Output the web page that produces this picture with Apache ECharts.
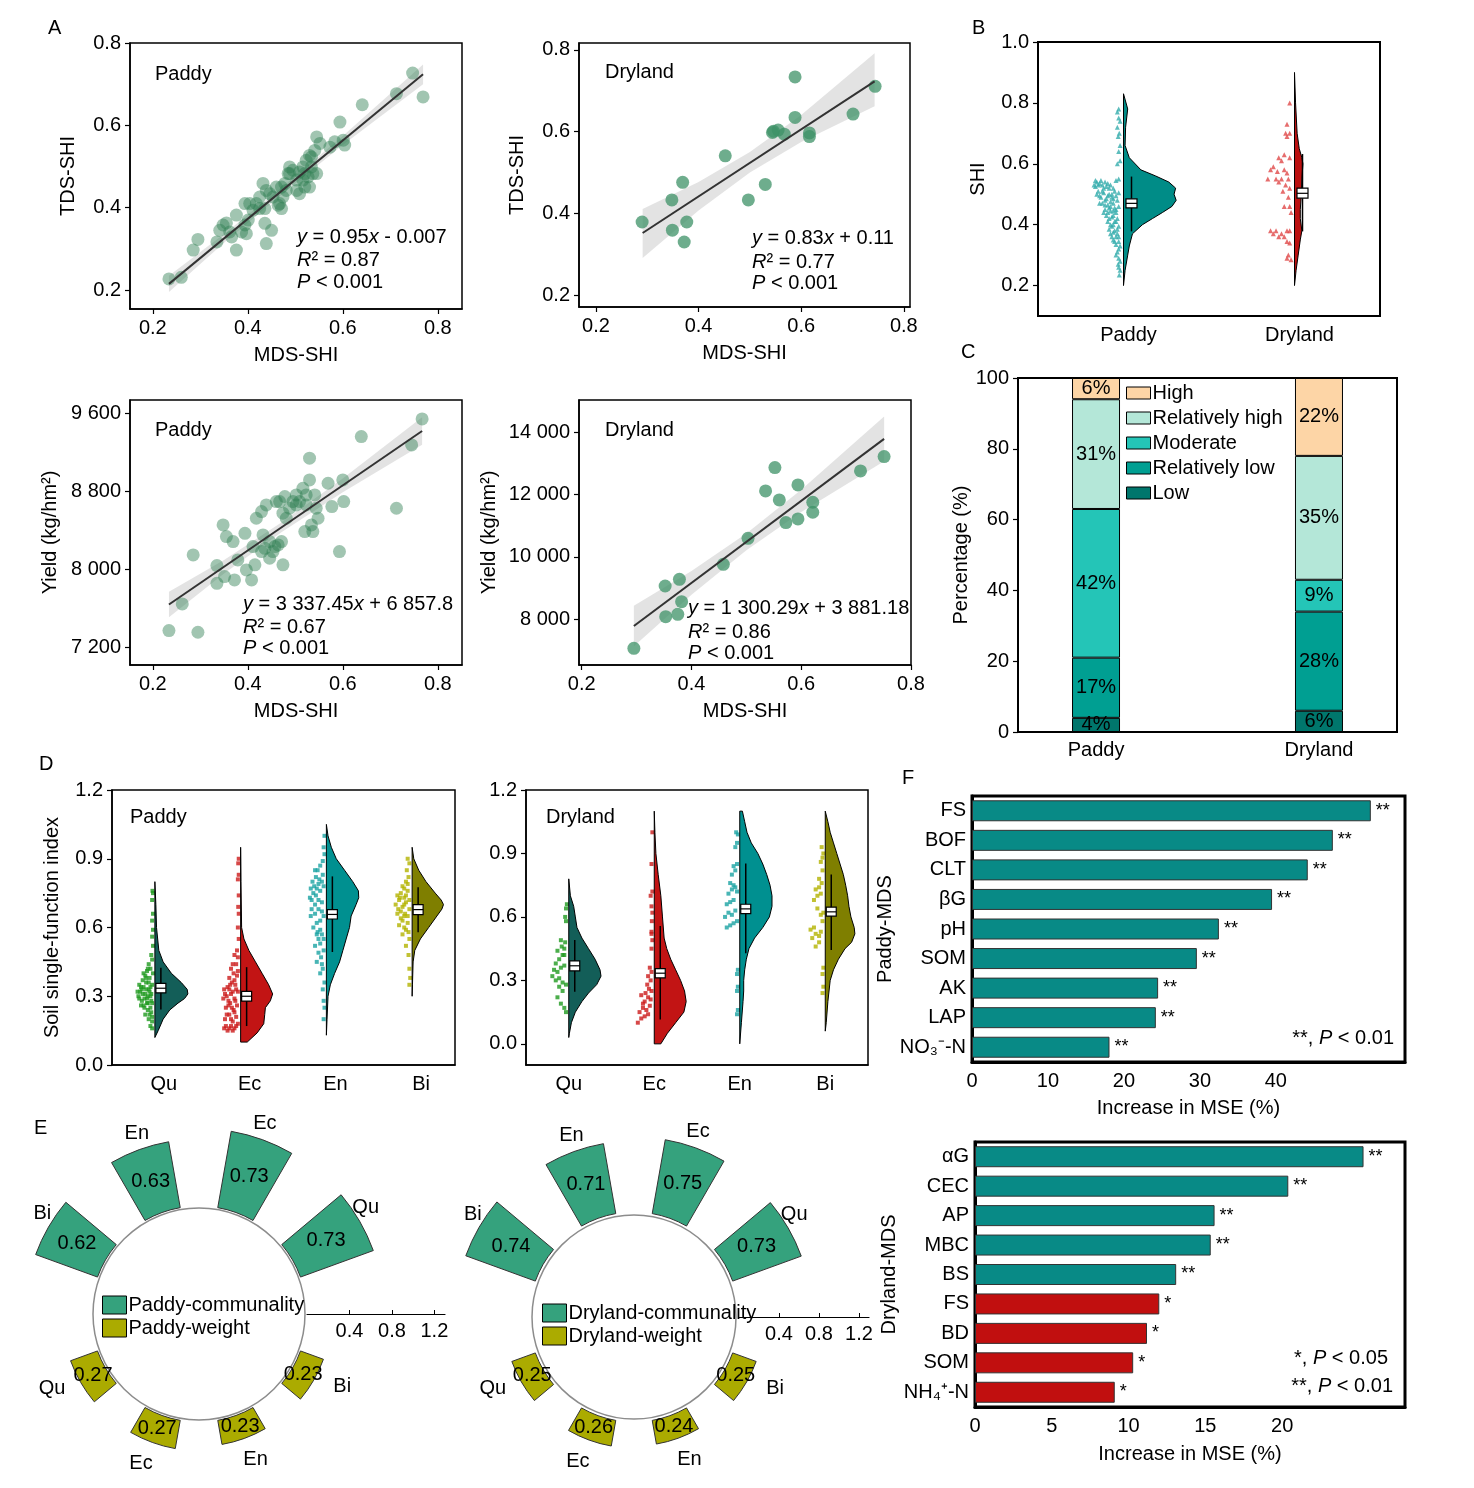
<!DOCTYPE html>
<html>
<head>
<meta charset="utf-8">
<title>Soil health index figure</title>
<script src="https://cdn.jsdelivr.net/npm/echarts@6/dist/echarts.min.js"></script>
<style>
html, body { margin: 0; padding: 0; background: #fff; }
#chart { width: 1474px; height: 1488px; }
</style>
</head>
<body>
<div id="chart"></div>
<script>
'use strict';

var FONT = '"Liberation Sans", Arial, sans-serif';

// ---- A: MDS-SHI against TDS-SHI and yield ----
var paddyTds = [
  [0.234,0.227],[0.260,0.231],[0.285,0.297],[0.295,0.323],[0.335,0.317],[0.341,0.345],[0.348,0.358],[0.355,0.363],[0.366,0.329],[0.376,0.297],
  [0.376,0.382],[0.387,0.341],[0.394,0.358],[0.397,0.337],[0.394,0.410],[0.411,0.394],[0.418,0.410],[0.425,0.426],[0.432,0.459],[0.436,0.398],
  [0.436,0.362],[0.439,0.313],[0.450,0.345],[0.446,0.434],[0.460,0.450],[0.464,0.406],[0.467,0.410],[0.474,0.426],[0.478,0.459],[0.485,0.483],
  [0.488,0.499],[0.495,0.491],[0.503,0.442],[0.509,0.434],[0.516,0.467],[0.516,0.499],[0.523,0.515],[0.527,0.475],[0.530,0.450],[0.534,0.523],
  [0.537,0.483],[0.541,0.539],[0.545,0.572],[0.545,0.483],[0.552,0.556],[0.573,0.547],[0.583,0.560],[0.601,0.564],[0.604,0.552],[0.594,0.608],
  [0.641,0.650],[0.713,0.677],[0.747,0.727],[0.769,0.669],[0.425,0.398],[0.453,0.426],[0.404,0.410],[0.503,0.467],[0.520,0.450],[0.401,0.370],
  [0.362,0.341],[0.481,0.442],[0.534,0.499],[0.488,0.483],[0.509,0.487],[0.439,0.442],[0.471,0.398],[0.530,0.527],[0.520,0.483],[0.471,0.450]
];
var dryTds = [
  [0.290,0.379],[0.348,0.433],[0.369,0.476],[0.349,0.359],[0.377,0.379],[0.372,0.330],[0.452,0.541],[0.497,0.433],[0.530,0.471],[0.546,0.601],
  [0.555,0.604],[0.567,0.594],[0.588,0.734],[0.588,0.635],[0.616,0.597],[0.616,0.588],[0.701,0.643],[0.744,0.711],[0.544,0.598]
];
var paddyYield = [
  [0.234,7371],[0.295,7354],[0.262,7644],[0.285,8147],[0.335,8038],[0.335,7856],[0.348,8455],[0.355,8335],[0.369,8284],[0.372,7891],
  [0.379,8096],[0.394,8369],[0.397,7993],[0.408,7891],[0.415,8045],[0.418,8523],[0.429,8592],[0.432,8352],[0.439,8660],[0.436,8215],
  [0.446,8284],[0.453,8181],[0.464,8250],[0.467,8694],[0.474,8045],[0.478,8745],[0.481,8523],[0.488,8626],[0.495,8694],[0.502,8762],
  [0.509,8694],[0.516,8831],[0.520,8386],[0.523,8762],[0.530,9139],[0.530,8916],[0.534,8455],[0.537,8386],[0.541,8762],[0.544,8626],
  [0.548,8523],[0.569,8882],[0.577,8643],[0.593,8181],[0.600,8916],[0.602,8694],[0.639,9361],[0.713,8626],[0.745,9275],[0.767,9542],
  [0.457,8233],[0.471,8284],[0.429,8181],[0.446,8113],[0.502,8660],[0.523,8660],[0.411,8233],[0.351,7925],[0.474,8575],[0.460,8694]
];
var dryYield = [
  [0.295,7057],[0.352,9061],[0.378,9276],[0.353,8075],[0.375,8150],[0.382,8557],[0.458,9758],[0.503,10594],[0.535,12116],[0.552,12867],
  [0.560,11827],[0.572,11098],[0.594,11216],[0.594,12309],[0.621,11752],[0.621,11430],[0.708,12760],[0.751,13221]
];
// fitted line ends and 95% band
var fitX = [[0.234, 0.769], [0.291, 0.743], [0.234, 0.767], [0.295, 0.751]];
var fitY = [[0.215, 0.724], [0.352, 0.723], [7639, 9418], [7775, 13789]];
var bandX = [
  [0.234, 0.35, 0.47, 0.6, 0.769], [0.291, 0.4, 0.5, 0.6, 0.743],
  [0.234, 0.35, 0.47, 0.6, 0.767], [0.295, 0.4, 0.5, 0.6, 0.751]
];
var bandLo = [
  [0.195, 0.315, 0.431, 0.552, 0.700], [0.291, 0.407, 0.500, 0.575, 0.662],
  [7509, 7956, 8376, 8790, 9278], [7125, 8780, 10209, 11438, 13069]
];
var bandHi = [
  [0.235, 0.336, 0.448, 0.574, 0.748], [0.411, 0.477, 0.550, 0.641, 0.792],
  [7769, 8096, 8476, 8930, 9558], [8425, 9540, 10749, 12158, 14509]
];

// ---- B: SHI distribution (density outline y / relative half width, box stats, jitter [offset, y]) ----
var bCats = ['Paddy', 'Dryland'];
var bY = [
  [0.20,0.25,0.30,0.33,0.37,0.40,0.42,0.44,0.46,0.48,0.50,0.52,0.54,0.56,0.58,0.62,0.66,0.72,0.78,0.83],
  [0.20,0.25,0.30,0.35,0.38,0.42,0.45,0.50,0.55,0.60,0.62,0.65,0.70,0.80,0.90]
];
var bW = [
  [0,3,8,11,17,36,55,74,92,100,96,99,86,61,33,11,3,4,8,0],
  [0,3,7,11,14,11,11,13,14,16,14,9,5,2,0]
];
var bBox = [[0.378, 0.455, 0.47, 0.485, 0.558], [0.378, 0.487, 0.503, 0.52, 0.632]];
var bPts = [
  [[0.1,0.78],[0.15,0.77],[0.1,0.75],[0.05,0.74],[0.15,0.72],[0.08,0.70],[0.12,0.69],[0.05,0.66],[0.1,0.64],[0.05,0.61],[0.15,0.60],
   [0.9,0.54],[0.8,0.535],[0.7,0.53],[0.95,0.525],[0.6,0.54],[0.5,0.535],[0.4,0.53],[0.3,0.52],[0.2,0.545],[0.1,0.55],
   [0.85,0.51],[0.65,0.505],[0.45,0.50],[0.25,0.51],[0.1,0.505],[0.75,0.49],[0.55,0.485],[0.35,0.49],[0.15,0.48],[0.7,0.47],
   [0.5,0.465],[0.3,0.47],[0.1,0.46],[0.6,0.45],[0.4,0.445],[0.2,0.44],[0.55,0.43],[0.35,0.425],[0.15,0.42],[0.5,0.41],
   [0.3,0.40],[0.1,0.395],[0.45,0.385],[0.25,0.38],[0.4,0.37],[0.2,0.36],[0.3,0.35],[0.1,0.345],[0.2,0.335],
   [0.15,0.31],[0.1,0.29],[0.12,0.27],[0.05,0.25],[0.08,0.235],
   [1.0,0.53],[0.9,0.50],[0.8,0.495],[0.65,0.52],[0.45,0.52],[0.35,0.50],[0.6,0.48],[0.4,0.475],[0.25,0.455],[0.45,0.455],
   [0.65,0.44],[0.3,0.43],[0.25,0.41],[0.4,0.40],[0.15,0.37],[0.35,0.36],
   [0.95,0.545],[0.75,0.545],[0.55,0.525],[0.85,0.53],[0.7,0.51],[0.5,0.495],[0.3,0.485],[0.2,0.495],[0.8,0.47],[0.6,0.465],
   [0.4,0.46],[0.2,0.45],[0.5,0.44],[0.3,0.445],[0.45,0.42],[0.2,0.41],[0.35,0.395],[0.15,0.385],[0.3,0.375],[0.1,0.36],
   [0.25,0.345],[0.05,0.33],[0.1,0.32],[0.2,0.30],[0.05,0.28],[0.1,0.26]],
  [[0.1,0.80],[0.2,0.73],[0.25,0.70],[0.1,0.70],[0.2,0.69],[0.3,0.63],[0.1,0.62],[0.5,0.62],[0.4,0.61],[0.7,0.59],
   [0.8,0.58],[0.3,0.58],[0.55,0.575],[0.2,0.57],[0.9,0.55],[0.6,0.55],[0.4,0.55],[0.15,0.55],[0.5,0.54],[0.25,0.53],
   [0.1,0.52],[0.35,0.51],[0.15,0.49],[0.1,0.46],[0.3,0.46],[0.05,0.44],[0.8,0.38],[0.6,0.38],[0.4,0.37],[0.2,0.38],
   [0.1,0.38],[0.7,0.37],[0.5,0.36],[0.3,0.36],[0.2,0.345],[0.1,0.34],[0.15,0.30],[0.05,0.285],[0.2,0.29]]
];

// ---- C: SHI grade shares (%) ----
var levels = ['Low', 'Relatively low', 'Moderate', 'Relatively high', 'High'];
var paddyPct = [4, 17, 42, 31, 6];
var dryPct = [6, 28, 9, 35, 22];

// ---- D: single-function indices ----
var groups = ['Qu', 'Ec', 'En', 'Bi'];
var dPaddyY = [
  [0.12,0.15,0.20,0.24,0.27,0.29,0.31,0.33,0.36,0.40,0.45,0.50,0.60,0.70,0.80],
  [0.10,0.14,0.18,0.22,0.25,0.28,0.31,0.35,0.40,0.45,0.50,0.55,0.60,0.80,0.95],
  [0.13,0.20,0.30,0.35,0.40,0.45,0.50,0.55,0.60,0.65,0.70,0.73,0.76,0.80,0.85,0.90,0.95,1.00,1.05],
  [0.30,0.35,0.45,0.50,0.55,0.60,0.65,0.68,0.70,0.72,0.75,0.80,0.85,0.90,0.95]
];
var dPaddyW = [
  [0,10,25,45,70,90,100,98,80,50,25,12,5,3,0],
  [20,50,70,73,75,90,97,85,65,45,25,10,3,1,0],
  [0,2,5,12,25,40,50,60,70,75,90,98,97,80,55,30,15,5,0],
  [0,1,3,8,25,50,75,90,95,88,70,42,20,5,0]
];
var dPaddyBox = [
  [0.242, 0.315, 0.335, 0.356, 0.424], [0.17, 0.279, 0.30, 0.321, 0.427],
  [0.493, 0.637, 0.657, 0.678, 0.823], [0.579, 0.656, 0.678, 0.70, 0.776]
];
var dPaddyPts = [
  [[0.9,0.30],[0.8,0.32],[0.7,0.28],[0.6,0.34],[0.5,0.31],[0.4,0.29],[0.3,0.33],[0.2,0.30],[0.1,0.27],[0.85,0.35],
   [0.65,0.37],[0.45,0.36],[0.25,0.38],[0.1,0.35],[0.75,0.26],[0.55,0.25],[0.35,0.24],[0.15,0.23],[0.6,0.40],[0.4,0.41],
   [0.2,0.42],[0.3,0.44],[0.1,0.46],[0.15,0.48],[0.5,0.22],[0.3,0.20],[0.1,0.19],[0.2,0.17],[0.1,0.16],[0.95,0.32],
   [0.7,0.33],[0.5,0.39],[0.35,0.27],[0.15,0.31],[0.05,0.40],[0.05,0.52],[0.1,0.56],[0.05,0.59],[0.1,0.63],[0.05,0.66],
   [0.1,0.72],[0.05,0.75],[0.08,0.76],
   [0.85,0.29],[0.65,0.31],[0.45,0.33],[0.25,0.32],[0.75,0.34],[0.55,0.29],[0.35,0.30],[0.15,0.28],[0.6,0.26],[0.4,0.27],
   [0.2,0.25],[0.3,0.36],[0.45,0.38],[0.2,0.34],[0.1,0.21],[0.25,0.22],[0.35,0.42]],
  [[0.9,0.16],[0.7,0.15],[0.5,0.17],[0.3,0.16],[0.1,0.18],[0.85,0.20],[0.6,0.22],[0.4,0.19],[0.2,0.21],[0.8,0.25],
   [0.55,0.27],[0.35,0.24],[0.15,0.26],[0.75,0.30],[0.5,0.31],[0.3,0.29],[0.1,0.32],[0.7,0.34],[0.45,0.36],[0.25,0.35],
   [0.6,0.38],[0.35,0.40],[0.15,0.39],[0.5,0.42],[0.2,0.44],[0.1,0.47],[0.3,0.48],[0.15,0.50],[0.95,0.29],[0.65,0.26],
   [0.9,0.33],[0.05,0.55],[0.1,0.60],[0.05,0.66],[0.08,0.69],[0.05,0.74],[0.1,0.81],[0.05,0.83],[0.08,0.88],[0.05,0.90],
   [0.8,0.17],[0.6,0.16],[0.4,0.15],[0.2,0.17],[0.75,0.22],[0.5,0.20],[0.3,0.23],[0.65,0.28],[0.45,0.25],[0.25,0.28],
   [0.85,0.31],[0.6,0.33],[0.4,0.32],[0.2,0.33],[0.55,0.35],[0.3,0.37],[0.1,0.41],[0.4,0.44]],
  [[0.1,0.20],[0.05,0.25],[0.1,0.28],[0.15,0.33],[0.05,0.36],[0.3,0.40],[0.15,0.42],[0.5,0.45],[0.25,0.47],[0.1,0.50],
   [0.6,0.52],[0.4,0.55],[0.2,0.57],[0.7,0.60],[0.5,0.62],[0.3,0.63],[0.1,0.65],[0.8,0.68],[0.6,0.70],[0.4,0.72],
   [0.2,0.71],[0.9,0.73],[0.7,0.75],[0.5,0.77],[0.3,0.76],[0.1,0.78],[0.75,0.80],[0.55,0.82],[0.35,0.81],[0.15,0.83],
   [0.6,0.85],[0.3,0.87],[0.15,0.89],[0.05,0.92],[0.1,0.95],[0.05,1.0],[0.85,0.65],[0.45,0.58],[0.65,0.78],
   [0.2,0.44],[0.4,0.49],[0.3,0.53],[0.1,0.55],[0.5,0.57],[0.3,0.59],[0.6,0.66],[0.4,0.68],[0.2,0.67],[0.8,0.72],
   [0.55,0.74],[0.85,0.77],[0.4,0.79],[0.2,0.80],[0.45,0.85]],
  [[0.1,0.35],[0.05,0.38],[0.1,0.42],[0.15,0.48],[0.3,0.52],[0.1,0.55],[0.5,0.57],[0.3,0.59],[0.7,0.61],[0.5,0.63],
   [0.2,0.62],[0.8,0.66],[0.6,0.67],[0.4,0.65],[0.9,0.70],[0.7,0.72],[0.5,0.69],[0.3,0.71],[0.1,0.68],[0.8,0.74],
   [0.6,0.75],[0.4,0.73],[0.2,0.76],[0.5,0.78],[0.3,0.80],[0.15,0.82],[0.25,0.85],[0.1,0.88],[0.2,0.90],[0.35,0.66],[0.15,0.58],
   [0.4,0.60],[0.6,0.64],[0.2,0.65],[0.75,0.68],[0.4,0.70],[0.65,0.73],[0.3,0.74],[0.1,0.72],[0.4,0.77],[0.2,0.79]]
];
var dDryY = [
  [0.03,0.05,0.10,0.15,0.20,0.24,0.28,0.32,0.35,0.40,0.45,0.50,0.55,0.60,0.65,0.70,0.78],
  [0.0,0.05,0.10,0.15,0.20,0.25,0.30,0.35,0.40,0.45,0.50,0.60,0.70,0.80,0.90,1.00,1.10],
  [0.0,0.10,0.20,0.25,0.30,0.35,0.40,0.45,0.50,0.55,0.60,0.65,0.70,0.75,0.80,0.85,0.90,0.95,1.00,1.05,1.10],
  [0.06,0.10,0.20,0.30,0.35,0.40,0.45,0.48,0.52,0.55,0.60,0.65,0.70,0.75,0.80,0.85,0.90,0.95,1.00,1.05,1.10]
];
var dDryW = [
  [0,2,8,20,40,60,85,98,95,80,60,40,25,20,15,5,0],
  [20,40,65,90,97,92,80,65,50,38,30,25,20,12,5,2,0],
  [0,5,10,12,12,15,20,28,45,70,90,98,98,92,82,70,55,35,22,15,8],
  [0,3,8,15,25,40,60,80,90,88,78,72,68,62,55,45,35,25,15,8,0]
];
var dDryBox = [
  [0.246, 0.345, 0.369, 0.392, 0.491], [0.115, 0.312, 0.334, 0.356, 0.557],
  [0.428, 0.616, 0.638, 0.66, 0.852], [0.444, 0.604, 0.624, 0.646, 0.80]
];
var dDryPts = [
  [[0.8,0.35],[0.6,0.34],[0.4,0.36],[0.2,0.37],[0.9,0.32],[0.7,0.30],[0.5,0.31],[0.3,0.29],[0.1,0.28],[0.5,0.27],
   [0.3,0.25],[0.6,0.22],[0.4,0.19],[0.2,0.17],[0.1,0.15],[0.7,0.38],[0.5,0.40],[0.3,0.42],[0.6,0.44],[0.35,0.46],
   [0.15,0.48],[0.4,0.49],[0.2,0.45],[0.1,0.58],[0.15,0.60],[0.1,0.64],[0.05,0.66],[0.2,0.42]],
  [[0.9,0.10],[0.7,0.12],[0.5,0.13],[0.3,0.14],[0.8,0.15],[0.6,0.17],[0.4,0.16],[0.2,0.18],[0.5,0.20],[0.3,0.22],
   [0.15,0.21],[0.45,0.24],[0.25,0.26],[0.1,0.25],[0.35,0.28],[0.15,0.30],[0.3,0.32],[0.1,0.34],[0.2,0.36],[0.6,0.19],
   [0.7,0.23],[0.1,0.45],[0.05,0.49],[0.1,0.53],[0.08,0.58],[0.05,0.62],[0.1,0.65],[0.15,0.70],[0.05,0.72],[0.1,0.85],
   [0.05,1.00],[0.1,0.52]],
  [[0.1,0.14],[0.05,0.16],[0.1,0.25],[0.05,0.27],[0.1,0.33],[0.05,0.35],[0.7,0.55],[0.5,0.56],[0.3,0.57],[0.1,0.58],
   [0.8,0.60],[0.6,0.62],[0.4,0.61],[0.2,0.63],[0.7,0.66],[0.5,0.67],[0.3,0.68],[0.6,0.71],[0.4,0.73],[0.2,0.74],
   [0.5,0.76],[0.3,0.75],[0.1,0.72],[0.4,0.80],[0.2,0.82],[0.3,0.84],[0.1,0.85],[0.2,0.93],[0.1,0.95],[0.05,0.99],[0.15,1.0]],
  [[0.1,0.24],[0.05,0.27],[0.1,0.33],[0.05,0.36],[0.5,0.46],[0.3,0.48],[0.7,0.50],[0.5,0.52],[0.3,0.51],[0.8,0.54],
   [0.6,0.55],[0.2,0.53],[0.1,0.58],[0.2,0.61],[0.05,0.62],[0.4,0.64],[0.6,0.68],[0.4,0.70],[0.2,0.71],[0.5,0.73],
   [0.3,0.74],[0.15,0.76],[0.3,0.78],[0.1,0.82],[0.2,0.86],[0.1,0.88],[0.05,0.90],[0.15,0.93]]
];

// ---- E: communality and weight ----
var paddyComm = [0.73, 0.73, 0.63, 0.62];
var paddyWeight = [0.27, 0.27, 0.23, 0.23];
var dryComm = [0.73, 0.75, 0.71, 0.74];
var dryWeight = [0.25, 0.26, 0.24, 0.25];
var commSlots = [1, 3, 5, 7];
var weightSlots = [10, 12, 14, 16];

// ---- F: random forest importance ----
var paddyVars = ['FS', 'BOF', 'CLT', 'βG', 'pH', 'SOM', 'AK', 'LAP', 'NO₃⁻-N'];
var paddyMSE = [52.5, 47.5, 44.2, 39.5, 32.5, 29.6, 24.5, 24.2, 18.1];
var paddySig = ['**', '**', '**', '**', '**', '**', '**', '**', '**'];
var dryVars = ['αG', 'CEC', 'AP', 'MBC', 'BS', 'FS', 'BD', 'SOM', 'NH₄⁺-N'];
var dryMSE = [25.3, 20.4, 15.6, 15.35, 13.1, 12.0, 11.2, 10.3, 9.1];
var drySig = ['**', '**', '**', '**', '**', '*', '*', '*', '*'];

var chart = echarts.init(document.getElementById('chart'));

function f1(v) { return (+v).toFixed(1); }
function spaced(v) { return String(v).replace(/\B(?=(\d{3})+(?!\d))/g, ' '); }

function vAxis(grid, min, max, ticks, fmt, name, gap, showTicks) {
  return {
    type: 'value', gridIndex: grid, min: min, max: max,
    name: name || '', nameLocation: 'middle', nameGap: gap || 0,
    nameTextStyle: { color: '#000', fontSize: 20, fontFamily: FONT },
    axisLine: { show: true, onZero: false, lineStyle: { color: '#000', width: 1.5 } },
    axisTick: { show: showTicks !== false, length: 5, customValues: ticks, lineStyle: { color: '#000', width: 1.2 } },
    axisLabel: { customValues: ticks, formatter: fmt, color: '#000', fontSize: 20, fontFamily: FONT, margin: 9 },
    splitLine: { show: false }
  };
}

function catAxis(grid, data, name, gap) {
  return {
    type: 'category', gridIndex: grid, data: data, inverse: true,
    name: name, nameLocation: 'middle', nameGap: gap,
    nameTextStyle: { color: '#000', fontSize: 20, fontFamily: FONT },
    axisLine: { show: true, lineStyle: { color: '#000', width: 3 } },
    axisTick: { show: false },
    axisLabel: { interval: 0, color: '#000', fontSize: 20, fontFamily: FONT, margin: 6 },
    splitLine: { show: false }
  };
}

var grids = [
  { left: 130, top: 43, width: 332, height: 266 },
  { left: 579, top: 43, width: 331, height: 264 },
  { left: 130, top: 400, width: 332, height: 265 },
  { left: 579, top: 400, width: 332, height: 265 },
  { left: 1038, top: 42, width: 342, height: 274 },
  { left: 1018, top: 378, width: 379, height: 354 },
  { left: 112, top: 790, width: 343, height: 275 },
  { left: 526, top: 790, width: 342, height: 275 },
  { left: 972, top: 796, width: 433, height: 266 },
  { left: 975, top: 1142, width: 430, height: 265 }
].map(function (g, i) {
  g.show = true;
  g.borderColor = '#000';
  g.borderWidth = i >= 8 ? 3 : (i === 4 || i === 5 ? 2 : 1.5);
  return g;
});

var shiTicks = [0.2, 0.4, 0.6, 0.8];
var cSlots = [];
for (var s = 0; s < 17; s++) { cSlots.push(String(s)); }
var cLabels = {3: 'Paddy', 13: 'Dryland'};

var xAxes = [
  vAxis(0, 0.152, 0.851, shiTicks, f1, 'MDS-SHI', 36),
  vAxis(1, 0.167, 0.812, shiTicks, f1, 'MDS-SHI', 36),
  vAxis(2, 0.152, 0.851, shiTicks, f1, 'MDS-SHI', 36),
  vAxis(3, 0.195, 0.8, shiTicks, f1, 'MDS-SHI', 36),
  vAxis(4, 0.5, 2.5, [1, 2], function (v) { return bCats[v - 1]; }, '', 0, false),
  {
    type: 'category', gridIndex: 5, data: cSlots,
    axisLine: { show: true, lineStyle: { color: '#000', width: 2 } },
    axisTick: { show: false },
    axisLabel: { interval: 0, color: '#000', fontSize: 20, fontFamily: FONT, margin: 8,
      formatter: function (v, i) { return cLabels[i] || ''; } }
  },
  vAxis(6, 0.5, 4.5, [1, 2, 3, 4], function (v) { return groups[v - 1]; }, '', 0, false),
  vAxis(7, 0.5, 4.5, [1, 2, 3, 4], function (v) { return groups[v - 1]; }, '', 0, false),
  vAxis(8, 0, 57, [0, 10, 20, 30, 40], String, 'Increase in MSE (%)', 36, false),
  vAxis(9, 0, 28, [0, 5, 10, 15, 20], String, 'Increase in MSE (%)', 37, false)
];
xAxes[6].axisLabel.padding = [0, 0, 0, 18];
xAxes[4].axisLabel.padding = [0, 0, 0, 10];
xAxes[8].axisLine.lineStyle.width = 3;
xAxes[9].axisLine.lineStyle.width = 3;

var yAxes = [
  vAxis(0, 0.154, 0.8, shiTicks, f1, 'TDS-SHI', 52),
  vAxis(1, 0.171, 0.817, shiTicks, f1, 'TDS-SHI', 52),
  vAxis(2, 7018, 9736, [7200, 8000, 8800, 9600], spaced, 'Yield (kg/hm²)', 70),
  vAxis(3, 6521, 15039, [8000, 10000, 12000, 14000], spaced, 'Yield (kg/hm²)', 80),
  vAxis(4, 0.1, 1.0, [0.2, 0.4, 0.6, 0.8, 1.0], f1, 'SHI', 50),
  vAxis(5, 0, 100, [0, 20, 40, 60, 80, 100], String, 'Percentage (%)', 36),
  vAxis(6, 0, 1.2, [0, 0.3, 0.6, 0.9, 1.2], f1, 'Soil single-function index', 50),
  vAxis(7, -0.1, 1.2, [0, 0.3, 0.6, 0.9, 1.2], f1),
  catAxis(8, paddyVars, 'Paddy-MDS', 61),
  catAxis(9, dryVars, 'Dryland-MDS', 63)
];

var series = [];

// A panels: band, points, fit line
var aScatter = [paddyTds, dryTds, paddyYield, dryYield];
var aColor = ['#2f7f52', '#3d9167', '#2f7f52', '#3d9167'];
var aOpacity = [0.45, 0.75, 0.45, 0.75];
aScatter.forEach(function (pts, i) {
  series.push({
    type: 'custom', xAxisIndex: i, yAxisIndex: i, z: 1, silent: true,
    data: [[bandX[i][0], bandLo[i][0]]],
    renderItem: function (params, api) {
      var poly = [];
      var k;
      for (k = 0; k < bandX[i].length; k++) { poly.push(api.coord([bandX[i][k], bandHi[i][k]])); }
      for (k = bandX[i].length - 1; k >= 0; k--) { poly.push(api.coord([bandX[i][k], bandLo[i][k]])); }
      return { type: 'polygon', shape: { points: poly }, style: { fill: '#dcdcdc', opacity: 0.8 } };
    }
  });
  series.push({
    type: 'scatter', xAxisIndex: i, yAxisIndex: i, z: 2, symbolSize: 13, data: pts,
    itemStyle: { color: aColor[i], opacity: aOpacity[i] }
  });
  series.push({
    type: 'line', xAxisIndex: i, yAxisIndex: i, z: 3, symbol: 'none',
    data: [[fitX[i][0], fitY[i][0]], [fitX[i][1], fitY[i][1]]],
    lineStyle: { color: '#333', width: 2 }
  });
});

// half violin with box on the right side of the category line
function violin(grid, pos, ys, ws, box, fill, maxW, boxOff, boxW) {
  return {
    type: 'custom', xAxisIndex: grid, yAxisIndex: grid, z: 4, silent: true,
    data: [[pos, box[2]]],
    renderItem: function (params, api) {
      var pts = [];
      for (var k = 0; k < ys.length; k++) { pts.push(api.coord([pos + ws[k] / 100 * maxW, ys[k]])); }
      pts.push(api.coord([pos, ys[ys.length - 1]]));
      pts.push(api.coord([pos, ys[0]]));
      var bx = api.coord([pos, box[2]])[0] + boxOff;
      var yv = box.map(function (v) { return api.coord([pos, v])[1]; });
      return {
        type: 'group',
        children: [
          { type: 'polygon', shape: { points: pts }, style: { fill: fill, stroke: '#000', lineWidth: 1 } },
          { type: 'line', shape: { x1: bx, y1: yv[0], x2: bx, y2: yv[4] }, style: { stroke: '#000', lineWidth: 1.5 } },
          { type: 'rect', shape: { x: bx - boxW / 2, y: yv[3], width: boxW, height: yv[1] - yv[3] },
            style: { fill: '#fff', stroke: '#000', lineWidth: 1.2 } },
          { type: 'line', shape: { x1: bx - boxW / 2, y1: yv[2], x2: bx + boxW / 2, y2: yv[2] },
            style: { stroke: '#000', lineWidth: 1.2 } }
        ]
      };
    }
  };
}

function jitter(grid, pos, pts, spread, color, symbol, size) {
  return {
    type: 'scatter', xAxisIndex: grid, yAxisIndex: grid, z: 3, symbol: symbol, symbolSize: size,
    itemStyle: { color: color },
    data: pts.map(function (p) { return [pos - 0.012 - p[0] * spread, p[1]]; })
  };
}

// B
var bFill = ['#008c87', '#bb1010'];
var bDot = ['#35adad', '#e04848'];
[0, 1].forEach(function (k) {
  series.push(jitter(4, k + 1, bPts[k], 0.16, bDot[k], 'triangle', 5));
  series.push(violin(4, k + 1, bY[k], bW[k], bBox[k], bFill[k], 0.308, 8, 11));
});

// C
var cColors = ['#00766c', '#009f92', '#24c5b7', '#b4e7d8', '#fdd5a6'];
levels.forEach(function (lv, k) {
  var d = cSlots.map(function () { return '-'; });
  d[3] = paddyPct[k];
  d[13] = dryPct[k];
  series.push({
    type: 'bar', name: lv, stack: 'grade', xAxisIndex: 5, yAxisIndex: 5, barWidth: 48, data: d,
    itemStyle: { color: cColors[k], borderColor: '#000', borderWidth: 1 },
    label: { show: true, position: 'inside', formatter: '{c}%', color: '#000', fontSize: 20, fontFamily: FONT }
  });
});

// D
var dFill = ['#135e58', '#c21414', '#009090', '#7f7f00'];
var dDot = ['#1f9a1f', '#cc1a1a', '#1aa3a3', '#b3b300'];
groups.forEach(function (g, k) {
  series.push(jitter(6, k + 1, dPaddyPts[k], 0.2, dDot[k], 'rect', 4));
  series.push(violin(6, k + 1, dPaddyY[k], dPaddyW[k], dPaddyBox[k], dFill[k], 0.385, 6, 10));
  series.push(jitter(7, k + 1, dDryPts[k], 0.2, dDot[k], 'rect', 4));
  series.push(violin(7, k + 1, dDryY[k], dDryW[k], dDryBox[k], dFill[k], 0.385, 6, 10));
});

// E
function slotData(vals, slots) {
  var d = [];
  for (var k = 0; k < 18; k++) { d.push('-'); }
  vals.forEach(function (v, j) { d[slots[j]] = v; });
  return d;
}
function rose(pi, name, vals, slots, color, nameDist) {
  var data = slotData(vals, slots);
  return [{
    type: 'bar', coordinateSystem: 'polar', polarIndex: pi, name: name, data: data,
    barCategoryGap: '0%', barGap: '-100%',
    itemStyle: { color: color, borderColor: '#333', borderWidth: 1 },
    label: { show: true, position: 'middle', rotate: 0, color: '#000', fontSize: 20, fontFamily: FONT,
      formatter: function (p) { return (+p.value).toFixed(2); } }
  }, {
    type: 'bar', coordinateSystem: 'polar', polarIndex: pi, name: name + ' name', data: data, silent: true,
    barCategoryGap: '0%', barGap: '-100%',
    itemStyle: { color: 'rgba(0,0,0,0)' },
    label: { show: true, position: 'end', rotate: 0, distance: nameDist, color: '#000', fontSize: 20, fontFamily: FONT,
      formatter: function (p) { return groups[slots.indexOf(p.dataIndex)]; } }
  }];
}
var commColor = '#35a27d';
var weightColor = '#abab00';
series = series.concat(
  rose(0, 'Paddy-communality', paddyComm, commSlots, commColor, 7),
  rose(0, 'Paddy-weight', paddyWeight, weightSlots, weightColor, 33),
  rose(2, 'Dryland-communality', dryComm, commSlots, commColor, 7),
  rose(2, 'Dryland-weight', dryWeight, weightSlots, weightColor, 33)
);

var eSlots = [];
for (var e = 0; e < 18; e++) { eSlots.push(String(e)); }
function angleCat(pi) {
  return { polarIndex: pi, type: 'category', data: eSlots, startAngle: 0, clockwise: false,
    axisLine: { show: false }, axisTick: { show: false }, axisLabel: { show: false }, splitLine: { show: false } };
}
function angleRing(pi) {
  return { polarIndex: pi, type: 'value', min: 0, max: 360,
    axisLine: { show: true, lineStyle: { color: '#8c8c8c', width: 1.5 } },
    axisTick: { show: false }, axisLabel: { show: false }, splitLine: { show: false } };
}
function radiusVal(pi) {
  return { polarIndex: pi, type: 'value', min: 0, max: 1.3,
    axisLine: { show: true, lineStyle: { color: '#000', width: 1.2 } },
    axisTick: { show: true, length: 4, customValues: [0.4, 0.8, 1.2] },
    axisLabel: { customValues: [0.4, 0.8, 1.2], formatter: f1, color: '#000', fontSize: 20, fontFamily: FONT,
      margin: -7, verticalAlign: 'top' },
    splitLine: { show: false } };
}

// F
function mseSeries(grid, vals, sig, nTeal) {
  return {
    type: 'bar', xAxisIndex: grid, yAxisIndex: grid, barWidth: 21,
    data: vals.map(function (v, k) {
      return { value: v, itemStyle: { color: k < nTeal ? '#088a86' : '#c10f0f' } };
    }),
    itemStyle: { borderColor: '#333', borderWidth: 1 },
    label: { show: true, position: 'right', distance: 5, color: '#000', fontSize: 18, fontFamily: FONT,
      formatter: function (p) { return sig[p.dataIndex]; } }
  };
}
series.push(mseSeries(8, paddyMSE, paddySig, 9));
series.push(mseSeries(9, dryMSE, drySig, 5));

var RICH = { i: { fontStyle: 'italic', fontSize: 20, fontFamily: FONT, fill: '#000' } };
function txt(x, y, s, align) {
  return {
    type: 'text', x: x, y: y, silent: true,
    style: { text: s, fill: '#000', fontSize: 20, fontFamily: FONT, rich: RICH,
      align: align || 'left', verticalAlign: 'middle', textAlign: align || 'left', textVerticalAlign: 'middle' }
  };
}

var graphics = [
  txt(48, 28, 'A'), txt(972, 28, 'B'), txt(961, 352, 'C'), txt(39, 764, 'D'), txt(34, 1128, 'E'), txt(902, 778, 'F'),
  txt(155, 74, 'Paddy'), txt(605, 72, 'Dryland'), txt(155, 430, 'Paddy'), txt(605, 430, 'Dryland'),
  txt(130, 817, 'Paddy'), txt(546, 817, 'Dryland'),
  txt(297, 237, '{i|y} = 0.95{i|x} - 0.007'), txt(297, 260, '{i|R}² = 0.87'), txt(297, 282, '{i|P} < 0.001'),
  txt(752, 238, '{i|y} = 0.83{i|x} + 0.11'), txt(752, 262, '{i|R}² = 0.77'), txt(752, 283, '{i|P} < 0.001'),
  txt(243, 604, '{i|y} = 3 337.45{i|x} + 6 857.8'), txt(243, 627, '{i|R}² = 0.67'), txt(243, 648, '{i|P} < 0.001'),
  txt(688, 608, '{i|y} = 1 300.29{i|x} + 3 881.18'), txt(688, 632, '{i|R}² = 0.86'), txt(688, 653, '{i|P} < 0.001'),
  txt(1394, 1038, '**, {i|P} < 0.01', 'right'),
  txt(1388, 1358, '*, {i|P} < 0.05', 'right'), txt(1393, 1386, '**, {i|P} < 0.01', 'right')
];

function legendBox(data, left, top, w, h, gap) {
  return {
    data: data, orient: 'vertical', left: left, top: top, itemWidth: w, itemHeight: h, itemGap: gap,
    icon: 'rect', selectedMode: false,
    itemStyle: { borderColor: '#000', borderWidth: 1 },
    textStyle: { color: '#000', fontSize: 20, fontFamily: FONT, padding: [0, 0, 0, -3] }
  };
}

chart.setOption({
  animation: false,
  backgroundColor: '#fff',
  textStyle: { fontFamily: FONT },
  grid: grids,
  xAxis: xAxes,
  yAxis: yAxes,
  polar: [
    { center: [199, 1314], radius: [108, 246] },
    { center: [199, 1314], radius: [0, 106] },
    { center: [634, 1317], radius: [105, 235] },
    { center: [634, 1317], radius: [0, 102] }
  ],
  angleAxis: [angleCat(0), angleRing(1), angleCat(2), angleRing(3)],
  radiusAxis: [radiusVal(0), { polarIndex: 1, show: false }, radiusVal(2), { polarIndex: 3, show: false }],
  legend: [
    legendBox(['High', 'Relatively high', 'Moderate', 'Relatively low', 'Low'], 1121, 378, 24, 12, 5),
    legendBox(['Paddy-communality', 'Paddy-weight'], 97, 1290, 24, 18, 3),
    legendBox(['Dryland-communality', 'Dryland-weight'], 537, 1298, 24, 18, 3)
  ],
  graphic: graphics,
  series: series
});
</script>
</body>
</html>
